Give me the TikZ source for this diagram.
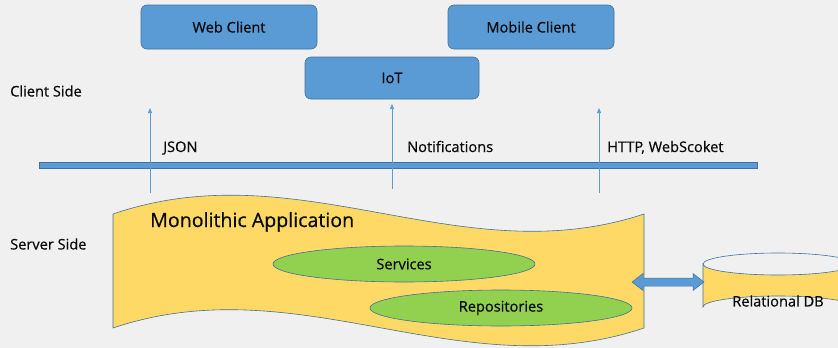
\documentclass[tikz,border=0pt]{standalone}
\usepackage{fontspec}
\setmainfont{Open Sans}[FakeBold=0.6]
\usetikzlibrary{arrows.meta,calc,shapes.geometric}
\definecolor{bg}{HTML}{F0F0F0}
\definecolor{boxblue}{HTML}{5B9BD5}
\definecolor{edgeblue}{HTML}{41719C}
\definecolor{appyellow}{HTML}{FFD966}
\definecolor{leafgreen}{HTML}{92D050}
\definecolor{txt}{HTML}{0A0A0A}
\tikzset{
  client/.style={draw=edgeblue, fill=boxblue, rounded corners=6pt, line width=0.6pt,
    minimum height=44pt, text=txt, font=\fontsize{14.6}{17}\selectfont},
  layer/.style={draw=edgeblue, fill=leafgreen, ellipse, line width=0.6pt,
    minimum height=36pt, minimum width=262pt, inner sep=0pt, text=txt, font=\fontsize{14.6}{17}\selectfont},
  lbl/.style={anchor=west, text=txt, inner sep=0pt, font=\fontsize{14.6}{17}\selectfont},
  uparrow/.style={draw=boxblue, line width=0.7pt, -{Triangle[length=5pt,width=4pt]}},
}
\begin{document}
\begin{tikzpicture}[x=1pt,y=-1pt]
\fill[bg] (0,0) rectangle (838,348);
\useasboundingbox (0,0) rectangle (838,348);
\clip (0,0) rectangle (838,348);
% clients
\node[client, minimum width=176pt] (web) at (229,27) {Web Client};
\node[client, minimum width=166pt] (mobile) at (531,27) {Mobile Client};
\node[client, minimum width=174pt, minimum height=42pt] (iot) at (392,78) {IoT};
% side labels
\node[lbl] (cside) at (10,91) {Client Side};
\node[lbl] (sside) at (10,244) {Server Side};
% bus
\draw[draw=edgeblue, fill=boxblue, line width=0.5pt] (39,162) rectangle (757,168);
% arrow coordinates
\coordinate (a1s) at (150,193); \coordinate (a1e) at (150,108);
\coordinate (a2s) at (392,189); \coordinate (a2e) at (392,104);
\coordinate (a3s) at (599,193); \coordinate (a3e) at (599,108);
\draw[uparrow] (a1s) -- (a1e);
\draw[uparrow] (a2s) -- (a2e);
\draw[uparrow] (a3s) -- (a3e);
\node[lbl, anchor=base west] (json) at (163,152) {JSON};
\node[lbl, anchor=base west] (notif) at (407,152) {Notifications};
\node[lbl, anchor=base west] (http) at (607,152) {HTTP, WebScoket};
% monolithic application (wave)
\draw[draw=edgeblue, fill=appyellow, line width=0.6pt]
  (113,214) .. controls (300,150) and (460,275) .. (644,214)
  -- (644,328) .. controls (460,390) and (300,265) .. (113,328) -- cycle;
\node[anchor=base west, text=txt, inner sep=0pt, font=\fontsize{19.6}{22}\selectfont] (mono) at (150,227) {Monolithic Application};
\node[layer] (services) at (404,264) {Services};
\node[layer] (repos) at (501,308) {Repositories};
% relational DB cylinder
\draw[draw=edgeblue, fill=appyellow, line width=0.6pt]
  (703,264) -- (703,307) arc[start angle=180, end angle=360, x radius=75, y radius=11]
  -- (853,264) arc[start angle=0, end angle=180, x radius=75, y radius=11] -- cycle;
\draw[draw=edgeblue, line width=0.6pt] (703,264) arc[start angle=180, end angle=360, x radius=75, y radius=11];
\node[text=txt, font=\fontsize{14.6}{17}\selectfont] (db) at (778,301) {Relational DB};
% double block arrow
\coordinate (arrL) at (632,282);
\coordinate (arrR) at (704,282);
\draw[draw=edgeblue, fill=boxblue, line width=0.5pt]
  (arrL) -- ($(arrL)+(11,-8.5)$) -- ($(arrL)+(11,-4)$) -- ($(arrR)+(-11,-4)$)
  -- ($(arrR)+(-11,-8.5)$) -- (arrR) -- ($(arrR)+(-11,8.5)$) -- ($(arrR)+(-11,4)$)
  -- ($(arrL)+(11,4)$) -- ($(arrL)+(11,8.5)$) -- cycle;
\end{tikzpicture}
\end{document}
